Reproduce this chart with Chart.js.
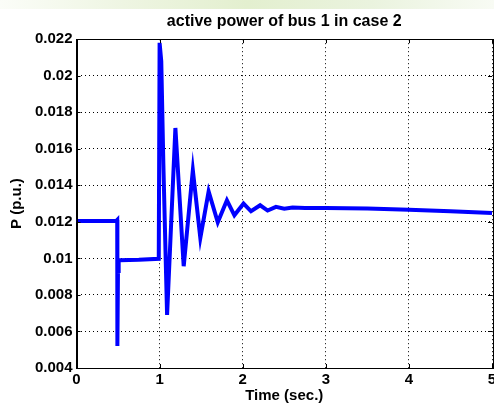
<!DOCTYPE html>
<html>
<head>
<meta charset="utf-8">
<script src="https://cdn.jsdelivr.net/npm/chart.js@4/dist/chart.umd.min.js"></script>
<style>
    html, body { margin: 0; padding: 0; }
    body {
        width: 494px; height: 405px; overflow: hidden;
        background: #fff;
    }
    #band {
        position: absolute; left: 0; top: 0; width: 494px; height: 9px;
        background: linear-gradient(to right, #fbfdf8 0%, #eef5e2 25%, #e3efcf 50%, #eaf3de 75%, #f8fbf4 100%);
    }
    #wrap { position: absolute; left: 0; top: 0; width: 494px; height: 405px; }
</style>
</head>
<body>
<div id="band"></div>
<div id="wrap"><canvas id="powerChart" width="494" height="405"></canvas></div>
<script>
// 時間 (sec.)
const timeSec = [0, 0.48, 0.49, 0.492, 0.50, 0.505, 0.51, 0.52, 0.75, 0.99,
    1.0, 1.02, 1.045, 1.09, 1.19, 1.29, 1.40, 1.49, 1.59, 1.70,
    1.81, 1.90, 2.01, 2.10, 2.21, 2.30, 2.40, 2.50, 2.60, 2.75,
    3.0, 3.5, 4.0, 4.5, 5.0];
// 有功功率 P (p.u.)
const powerPU = [0.01205, 0.01205, 0.0121, 0.0052, 0.0098, 0.0092, 0.00985, 0.0099, 0.00992, 0.00998,
    0.0218, 0.0208, 0.0152, 0.0069, 0.01714, 0.00957, 0.01482, 0.01112, 0.01367, 0.01198,
    0.01318, 0.01236, 0.0130, 0.01258, 0.01291, 0.01262, 0.01282, 0.01272, 0.01278, 0.01276,
    0.01276, 0.01273, 0.01267, 0.01258, 0.01248];

const xTicks = [0, 1, 2, 3, 4, 5];
const yTicks = [0.004, 0.006, 0.008, 0.01, 0.012, 0.014, 0.016, 0.018, 0.02, 0.022];

const titleText = 'active power of bus 1 in case 2';
const xTitle = 'Time (sec.)';
const yTitle = 'P (p.u.)';

// 外框和向內刻度 (Matlab 風格)
const boxPlugin = {
    id: 'boxPlugin',
    afterDraw(chart) {
        const { ctx, chartArea: a, scales } = chart;
        const len = 4;
        ctx.save();
        ctx.strokeStyle = '#000';
        ctx.lineWidth = 1;
        ctx.beginPath();
        xTicks.forEach(v => {
            const px = Math.round(scales.x.getPixelForValue(v)) + 0.5;
            ctx.moveTo(px, a.bottom); ctx.lineTo(px, a.bottom - len);
            ctx.moveTo(px, a.top); ctx.lineTo(px, a.top + len);
        });
        yTicks.forEach(v => {
            const py = Math.round(scales.y.getPixelForValue(v)) + 0.5;
            ctx.moveTo(a.left, py); ctx.lineTo(a.left + len, py);
            ctx.moveTo(a.right, py); ctx.lineTo(a.right - len, py);
        });
        ctx.stroke();
        ctx.strokeRect(Math.round(a.left) + 0.5, Math.round(a.top) + 0.5,
            Math.round(a.right - a.left), Math.round(a.bottom - a.top));
        ctx.restore();
    }
};

const fontFamily = '"Liberation Sans", Arial, Helvetica, sans-serif';

new Chart(document.getElementById('powerChart'), {
    type: 'line',
    data: {
        datasets: [{
            data: timeSec.map((t, i) => ({ x: t, y: powerPU[i] })),
            borderColor: '#0000ff',
            borderWidth: 4,
            pointRadius: 0,
            tension: 0,
            fill: false
        }]
    },
    options: {
        responsive: false,
        animation: false,
        layout: { padding: { top: 0, right: 2, left: 0, bottom: 0 } },
        plugins: {
            legend: { display: false },
            tooltip: { enabled: false },
            title: {
                display: true,
                fullSize: false,
                text: titleText,
                color: '#000',
                font: { family: fontFamily, size: 16, weight: 'bold', lineHeight: 1.2 },
                padding: { top: 12, bottom: 8 }
            }
        },
        scales: {
            x: {
                type: 'linear',
                min: 0, max: 5,
                afterBuildTicks: s => { s.ticks = xTicks.map(v => ({ value: v })); },
                afterFit: s => { s.height = 37; s.paddingRight = 0; s.paddingLeft = 0; },
                ticks: {
                    color: '#000',
                    padding: 3,
                    font: { family: fontFamily, size: 15, weight: 'bold' },
                    maxRotation: 0
                },
                grid: {
                    color: '#000',
                    lineWidth: 1,
                    drawTicks: false
                },
                border: { display: true, color: '#000', dash: [1, 3] },
                title: {
                    display: true,
                    text: xTitle,
                    color: '#000',
                    padding: { top: 0, bottom: 0 },
                    font: { family: fontFamily, size: 15, weight: 'bold', lineHeight: 1.2 }
                }
            },
            y: {
                min: 0.004, max: 0.022,
                afterBuildTicks: s => { s.ticks = yTicks.map(v => ({ value: v })); },
                afterFit: s => { s.width = 76.5; },
                ticks: {
                    color: '#000',
                    padding: 4,
                    font: { family: fontFamily, size: 15, weight: 'bold' },
                    callback: v => String(Number(v.toFixed(3)))
                },
                grid: {
                    color: '#000',
                    lineWidth: 1,
                    drawTicks: false
                },
                border: { display: true, color: '#000', dash: [1, 3] },
                title: {
                    display: true,
                    text: yTitle,
                    color: '#000',
                    padding: { top: 8, bottom: 0 },
                    font: { family: fontFamily, size: 15, weight: 'bold', lineHeight: 1.2 }
                }
            }
        }
    },
    plugins: [boxPlugin]
});
</script>
</body>
</html>
